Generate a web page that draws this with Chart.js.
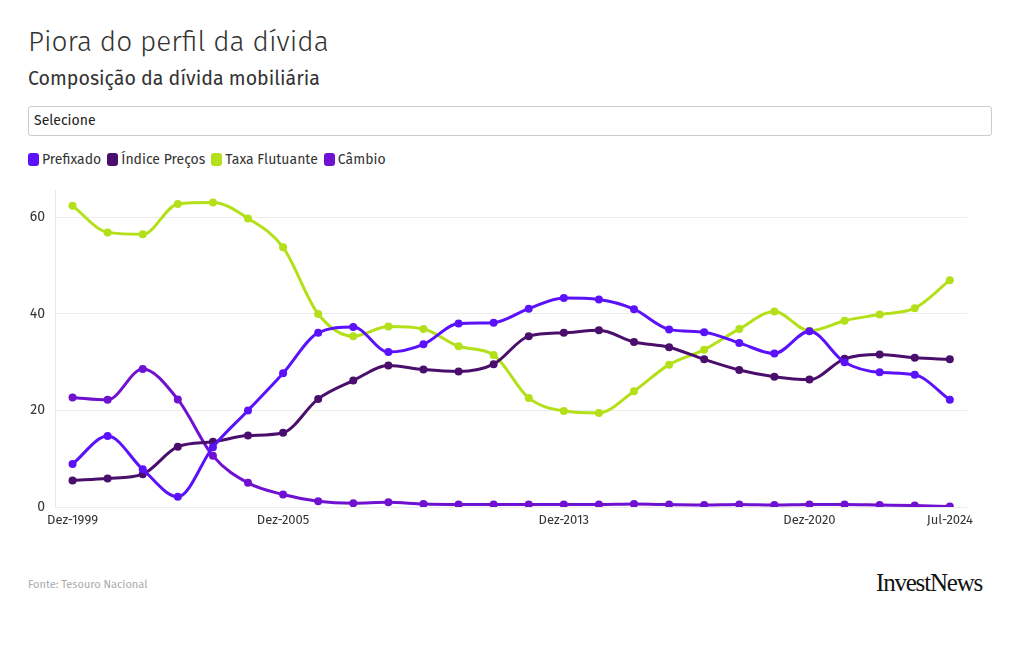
<!DOCTYPE html>
<html lang="pt-BR">
<head>
<meta charset="utf-8">
<script src="https://cdn.jsdelivr.net/npm/chart.js@4.4.1/dist/chart.umd.min.js"></script>
<style>
  body { margin: 0; background: #fff; font-family: "Fira Sans", "Noto Sans", sans-serif; color: #333; }
  #wrap { position: relative; width: 1020px; height: 650px; }
  h1 { position: absolute; left: 28px; top: 25px; margin: 0; font-size: 28px; font-weight: 300; color: #333; }
  h2 { position: absolute; left: 28px; top: 67px; margin: 0; font-size: 19.6px; font-weight: 400; color: #333; }
  .select { position: absolute; left: 28px; top: 106px; width: 964px; height: 30px; border: 1px solid #ccc; border-radius: 3px; box-sizing: border-box; font-size: 14px; line-height: 28px; padding-left: 5px; color: #222; }
  .legend { position: absolute; left: 28px; top: 151px; font-size: 14px; display: flex; gap: 6px; }
  .legend span { display: flex; align-items: center; }
  .legend i { display: inline-block; width: 11px; height: 13px; border-radius: 3px; margin-right: 3px; }
  #box { position: absolute; left: 20px; top: 172px; width: 959px; height: 363px; }
  .fonte { position: absolute; left: 28px; top: 578px; font-size: 11px; color: #aaa; }
  .logo { position: absolute; left: 876px; top: 569px; font-family: "Liberation Serif", "DejaVu Serif", serif; font-size: 25px; letter-spacing: -1.2px; color: #111; }
</style>
</head>
<body>
<div id="wrap">
  <h1>Piora do perfil da dívida</h1>
  <h2>Composição da dívida mobiliária</h2>
  <div class="select">Selecione</div>
  <div class="legend" id="legenda"></div>
  <div id="box"><canvas id="grafico"></canvas></div>
  <div class="fonte">Fonte: Tesouro Nacional</div>
  <div class="logo">InvestNews</div>
</div>
<script>
// Dados (% da dívida mobiliária)
const anos = [];
for (let a = 1999; a <= 2023; a++) anos.push("Dez-" + a);
anos.push("Jul-2024");

const rotulosEixo = ["Dez-1999", "Dez-2005", "Dez-2013", "Dez-2020", "Jul-2024"];

const prefixado = [8.9, 14.7, 7.8, 2.1, 12.4, 20.0, 27.7, 36.1, 37.3, 32.1, 33.7, 38.0, 38.2,
  41.1, 43.3, 43.0, 41.0, 36.8, 36.2, 34.0, 31.8, 36.4, 30.0, 27.9, 27.4, 22.2];
const indicePrecos = [5.5, 5.9, 6.8, 12.5, 13.5, 14.8, 15.4, 22.4, 26.2, 29.3, 28.5, 28.1, 29.6,
  35.4, 36.1, 36.6, 34.2, 33.1, 30.6, 28.4, 27.0, 26.4, 30.7, 31.6, 30.9, 30.6];
const taxaFlutuante = [62.4, 56.9, 56.5, 62.8, 63.1, 59.8, 53.8, 40.0, 35.4, 37.4, 36.9, 33.3, 31.5,
  22.6, 19.9, 19.5, 24.0, 29.5, 32.6, 36.9, 40.5, 36.5, 38.6, 39.9, 41.2, 47.0];
const cambio = [22.7, 22.2, 28.6, 22.3, 10.6, 5.0, 2.6, 1.2, 0.8, 1.0, 0.6, 0.5, 0.5,
  0.5, 0.5, 0.5, 0.6, 0.5, 0.4, 0.5, 0.4, 0.5, 0.5, 0.4, 0.3, 0.1];

const series = [
  { nome: "Prefixado", dados: prefixado, cor: "#5b12fb" },
  { nome: "Índice Preços", dados: indicePrecos, cor: "#4a0f6c" },
  { nome: "Taxa Flutuante", dados: taxaFlutuante, cor: "#b3e019" },
  { nome: "Câmbio", dados: cambio, cor: "#7011d2" }
];

// Legenda
const leg = document.getElementById("legenda");
series.forEach(s => {
  const el = document.createElement("span");
  el.innerHTML = `<i style="background:${s.cor}"></i>${s.nome}`;
  leg.appendChild(el);
});

const fonte = "'Fira Sans', 'Noto Sans', sans-serif";

new Chart(document.getElementById("grafico"), {
  type: "line",
  data: {
    labels: anos,
    datasets: series.map(s => ({
      label: s.nome,
      data: s.dados,
      borderColor: s.cor,
      backgroundColor: s.cor,
      pointBackgroundColor: s.cor,
      pointBorderWidth: 0,
      pointRadius: 4,
      borderWidth: 3,
      cubicInterpolationMode: "monotone",
      fill: false
    }))
  },
  options: {
    responsive: true,
    maintainAspectRatio: false,
    animation: false,
    layout: { padding: { top: 3, right: 3, left: 0, bottom: 0 } },
    plugins: { legend: { display: false }, tooltip: { enabled: false } },
    scales: {
      x: {
        offset: true,
        grid: { display: false, drawTicks: false },
        border: { display: false },
        afterFit: s => { s.height = 28; },
        ticks: {
          autoSkip: false,
          maxRotation: 0,
          padding: 6,
          color: "#333",
          font: { family: fonte, size: 13 },
          callback: function (v) {
            const l = this.getLabelForValue(v);
            return rotulosEixo.includes(l) ? l : "";
          }
        }
      },
      y: {
        min: 0,
        max: 65.6,
        afterBuildTicks: s => { s.ticks = s.ticks.filter(t => t.value % 20 === 0); },
        afterFit: s => { s.width = 35; },
        grid: { color: "#ececec", drawTicks: false },
        border: { display: true, color: "#e6e6e6" },
        ticks: {
          stepSize: 20,
          padding: 10,
          color: "#333",
          font: { family: fonte, size: 14 }
        }
      }
    }
  }
});
</script>
</body>
</html>
